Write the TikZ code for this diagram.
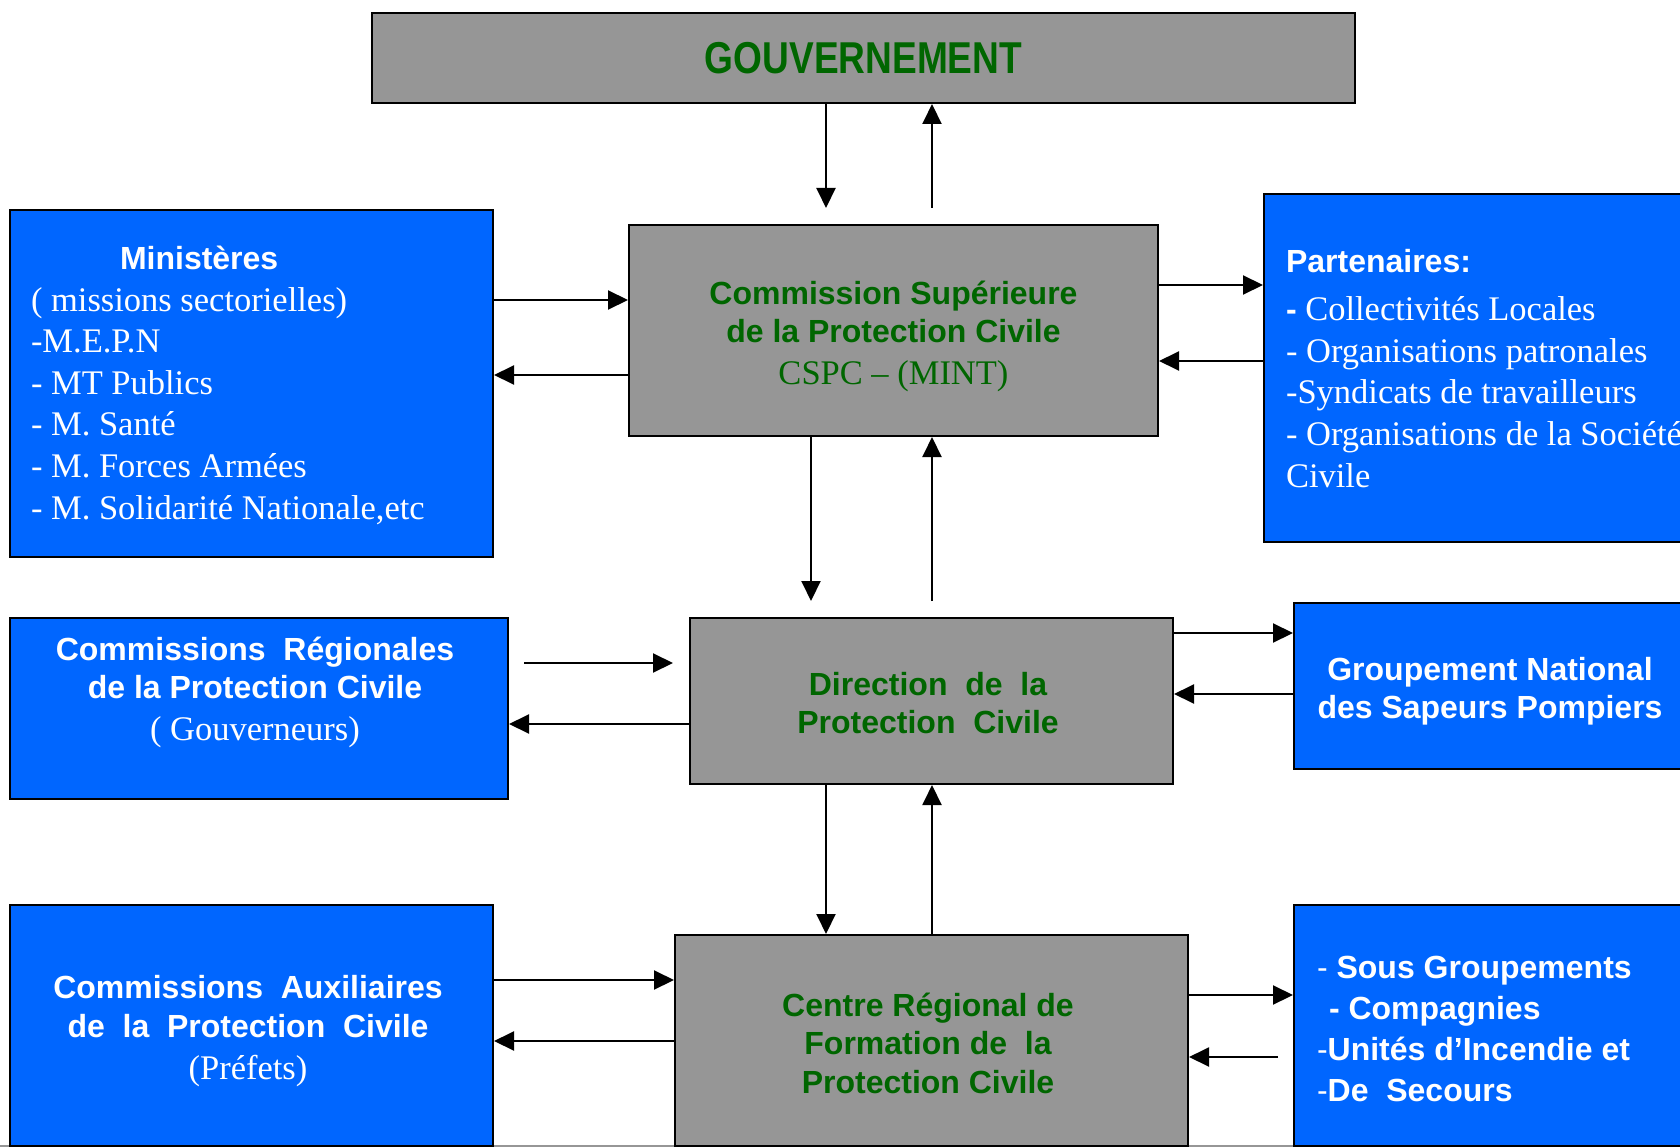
\documentclass[tikz,border=0pt]{standalone}
\usepackage{fontspec}
\setmainfont{Liberation Serif}
\setsansfont{Liberation Sans}
\usepackage{tikz}
\usetikzlibrary{arrows.meta}

\definecolor{pcblue}{RGB}{0,102,255}
\definecolor{pcgrey}{RGB}{150,150,150}
\definecolor{pcgreen}{RGB}{0,102,0}
\newcommand{\hd}{\sffamily\bfseries\fontsize{32}{38}\selectfont}
\newcommand{\tm}{\rmfamily\mdseries\fontsize{34.5}{41.6}\selectfont}

\begin{document}
\begin{tikzpicture}[x=1pt,y=-1pt,>={Triangle[length=20pt,width=19pt]},
                    line width=2pt]
  \tikzstyle{grey box}=[draw=black,fill=pcgrey,inner sep=0pt]
  \tikzstyle{blue box}=[draw=black,fill=pcblue,inner sep=0pt]
  \tikzstyle{green text}=[text=pcgreen,align=center,inner sep=0pt,font=\hd]
  \tikzstyle{white text}=[text=white,align=center,inner sep=0pt,font=\hd]
  \tikzstyle{list}=[text=white,align=left,inner sep=0pt,font=\tm,
                    anchor=north west]

  \useasboundingbox (0,0) rectangle (1680,1147);
  \draw[pcgrey,line width=2pt] (0,1146) -- (1680,1146);

  % top
  \node[grey box,minimum width=983pt,minimum height=90pt] (gov) at (863.5,58)
       {\scalebox{1.03}[1.24]{\color{pcgreen}\hd\fontsize{36}{40}\selectfont GOUVERNEMENT}};

  % first row
  \node[grey box,minimum width=529pt,minimum height=211pt] (cspc) at (893.5,330.5) {};
  \node[green text] (cspc-t) at (893.5,336)
       {Commission Supérieure\\de la Protection Civile\\[4pt]{\tm CSPC – (MINT)}};
  \node[blue box,minimum width=483pt,minimum height=347pt] (min) at (251.5,383.5) {};
  \node[list] (min-t) at (30,245)
       {\hspace*{89pt}{\hd Ministères}\\( missions sectorielles)\\-M.E.P.N\\
        - MT Publics\\- M. Santé\\- M. Forces Armées\\- M. Solidarité Nationale,etc};
  \node[blue box,minimum width=422pt,minimum height=348pt] (part) at (1475,368) {};
  \node[list] (part-t) at (1285,248)
       {{\hd Partenaires:}\\[7pt]{\hd -} Collectivités Locales\\- Organisations patronales\\
        -Syndicats de travailleurs\\- Organisations de la Société\\Civile};

  % second row
  \node[grey box,minimum width=483pt,minimum height=166pt] (dir) at (931.5,701) {};
  \node[green text] (dir-t) at (928,703)
       {Direction\ \ de\ \ la\\Protection\ \ Civile};
  \node[blue box,minimum width=498pt,minimum height=181pt] (reg) at (259,708.5) {};
  \node[white text] (reg-t) at (255,692.5)
       {Commissions\ \ Régionales\\de la Protection Civile\\[4pt]{\tm ( Gouverneurs)}};
  \node[blue box,minimum width=392pt,minimum height=166pt] (gnsp) at (1490,686) {};
  \node[white text] (gnsp-t) at (1490,691.5)
       {Groupement National\\des Sapeurs Pompiers};

  % third row
  \node[grey box,minimum width=513pt,minimum height=211pt] (crf) at (931.5,1040.5) {};
  \node[green text] (crf-t) at (928,1043)
       {Centre Régional de\\Formation de\ \ la\\[1pt]Protection Civile};
  \node[blue box,minimum width=483pt,minimum height=241pt] (aux) at (251.5,1025.5) {};
  \node[white text] (aux-t) at (248,1031.5)
       {Commissions\ \ Auxiliaires\\[1pt]de\ \ la\ \ Protection\ \ Civile\\[4pt]{\tm (Préfets)}};
  \node[blue box,minimum width=392pt,minimum height=241pt] (sg) at (1490,1025.5) {};
  \node[list,font={\sffamily\bfseries\fontsize{32}{41}\selectfont}] (sg-t) at (1316,955)
       {{\mdseries -} Sous Groupements\\\hspace*{12pt}- Compagnies\\
        {\mdseries -}Unités d’Incendie et\\{\mdseries -}De\ \ Secours};

  % links
  \path[->] (gov.south -| 826,0) edge[shorten >=16pt] (cspc.north -| 826,0)
            (cspc.north -| 932,0) edge[shorten <=16pt] (gov.south -| 932,0)
            (min.east |- 0,300) edge (cspc.west |- 0,300)
            (cspc.west |- 0,375) edge (min.east |- 0,375)
            (cspc.east |- 0,285) edge (part.west |- 0,285)
            (part.west |- 0,361) edge (cspc.east |- 0,361)
            (cspc.south -| 811,0) edge[shorten >=16pt] (dir.north -| 811,0)
            (dir.north -| 932,0) edge[shorten <=16pt] (cspc.south -| 932,0);
  \path[->] (reg.east |- 0,663) edge[shorten <=15pt,shorten >=16pt] (dir.west |- 0,663)
            (dir.west |- 0,724) edge (reg.east |- 0,724)
            (dir.east |- 0,633) edge (gnsp.west |- 0,633)
            (gnsp.west |- 0,694) edge (dir.east |- 0,694)
            (dir.south -| 826,0) edge (crf.north -| 826,0)
            (crf.north -| 932,0) edge (dir.south -| 932,0);
  \path[->] (aux.east |- 0,980) edge (crf.west |- 0,980)
            (crf.west |- 0,1041) edge (aux.east |- 0,1041)
            (crf.east |- 0,995) edge (sg.west |- 0,995)
            (sg.west |- 0,1057) edge[shorten <=15pt] (crf.east |- 0,1057);
\end{tikzpicture}
\end{document}
